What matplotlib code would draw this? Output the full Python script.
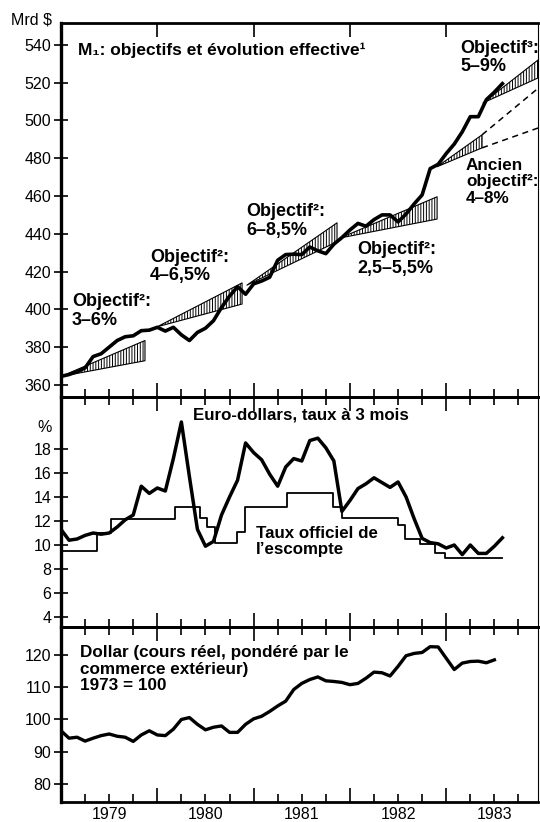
import numpy as np
import matplotlib
matplotlib.use('Agg')
import matplotlib.pyplot as plt
from matplotlib.ticker import MultipleLocator

plt.rcParams['font.family'] = ['Liberation Sans', 'DejaVu Sans']
plt.rcParams['hatch.linewidth'] = 0.7

# ---------------- data (monthly from January 1979) ----------------
T_START = 1979.0
m1_values = [364.5, 365.5, 367, 369, 375, 376.5, 380, 383.5, 385.5, 386, 388.7, 389,
             390.5, 388.5, 390.5, 386.5, 383.5, 387.8, 390, 394, 401, 407, 412, 408,
             413.5, 415, 417, 426, 429, 429.2, 429, 433, 431, 429.5, 434.5, 438,
             442, 445.5, 444, 447.5, 450, 450, 446.3, 450.5, 455.8, 460.6, 474.5, 476.8,
             482.5, 487.5, 494, 502, 502, 511, 515, 519.5]

euro_values = [11.3, 10.4, 10.5, 10.8, 11.0, 10.9, 11.0, 11.5, 12.1, 12.5, 14.9, 14.3,
               14.75, 14.5, 17.2, 20.25, 15.7, 11.3, 9.9, 10.3, 12.5, 14.0, 15.4, 18.5,
               17.7, 17.1, 15.9, 14.9, 16.5, 17.2, 17.0, 18.7, 18.9, 18.1, 17.0, 12.8,
               13.7, 14.7, 15.1, 15.6, 15.2, 14.8, 15.25, 14.0, 12.2, 10.55, 10.2, 10.1,
               9.75, 10.0, 9.2, 10.0, 9.3, 9.3, 9.9, 10.6]

dollar_values = [96.5, 94.2, 94.5, 93.3, 94.2, 95.0, 95.5, 94.8, 94.5, 93.2, 95.2, 96.5,
                 95.2, 95.0, 97.0, 100.0, 100.6, 98.5, 96.8, 97.6, 98.0, 96.0, 96.0, 98.5,
                 100.2, 101.0, 102.5, 104.2, 105.7, 109.3, 111.2, 112.4, 113.2, 112.0, 111.8, 111.5,
                 110.8, 111.2, 112.8, 114.7, 114.5, 113.5, 116.5, 119.8, 120.5, 120.8, 122.6, 122.5,
                 119.0, 115.5, 117.5, 118.0, 118.1, 117.6, 118.5]

# discount rate: change dates (decimal years) and levels
discount_dates = [1979.02, 1979.37, 1979.52, 1980.18, 1980.44, 1980.52, 1980.60, 1980.83,
                  1980.91, 1981.35, 1981.82, 1981.92, 1982.50, 1982.57, 1982.73, 1982.88,
                  1982.99, 1983.58]
discount_levels = [9.5, 11.0, 12.2, 13.2, 12.25, 11.5, 10.2, 11.1,
                   13.2, 14.3, 13.2, 12.25, 11.7, 10.5, 10.1, 9.3,
                   8.9, 8.9]

# M1 target cones: start date, base level, end date, lower and upper bound
cone_start_t = [1979.0, 1980.0, 1980.93, 1981.90, 1982.905, 1983.382]
cone_base = [364.5, 390.8, 412.8, 437.8, 475.5, 509.3]
cone_end_t = [1979.872, 1980.88, 1981.866, 1982.905, 1983.372, 1983.953]
cone_lower = [372.8, 402.8, 435.8, 447.8, 485.5, 522.5]
cone_upper = [383.5, 414.0, 445.8, 459.6, 492.4, 532.0]
# continuation of the former 1983 target (dashed)
old_target_end_t = 1983.953
old_target_lower_end = 496.0
old_target_upper_end = 517.0

years = [1979, 1980, 1981, 1982, 1983]

# ---------------- figure ----------------
fig = plt.figure(figsize=(5.4, 8.22), dpi=100)
W, H = 540.0, 822.0
L, R = 61, 538

def axes_px(top, bottom):
    return fig.add_axes([L / W, 1 - bottom / H, (R - L) / W, (bottom - top) / H])

ax1 = axes_px(23, 397)
ax2 = axes_px(397, 627)
ax3 = axes_px(627, 802)

XMIN, XMAX = 1979.0, 1983.953

def months(n):
    return T_START + np.arange(n) / 12.0

for ax in (ax1, ax2, ax3):
    ax.set_xlim(XMIN, XMAX)
    ax.xaxis.set_major_locator(MultipleLocator(1))
    ax.xaxis.set_minor_locator(MultipleLocator(0.25))
    ax.tick_params(axis='x', which='both', direction='in', top=True, bottom=True,
                   labelbottom=False, width=1.2, color='black')
    ax.tick_params(axis='x', which='major', length=10)
    ax.tick_params(axis='x', which='minor', length=6)
    ax.tick_params(axis='y', which='major', direction='inout', length=10, width=1.2,
                   labelsize=11.5, pad=2, right=False)
    ax.tick_params(axis='y', which='minor', left=False, right=False)
    ax.spines['left'].set_linewidth(2.4)
    ax.spines['top'].set_linewidth(2.0)
    ax.spines['bottom'].set_linewidth(2.0)
    ax.spines['right'].set_linewidth(0.8)
    ax.patch.set_alpha(0)

ax1.tick_params(axis='x', which='minor', top=False)

# ---- top panel: M1 ----
ax1.set_ylim(353.6, 551.6)
ax1.set_yticks(np.arange(360, 541, 20))
for i in range(len(cone_start_t)):
    ax1.fill_between([cone_start_t[i], cone_end_t[i]],
                     [cone_base[i], cone_lower[i]],
                     [cone_base[i], cone_upper[i]],
                     facecolor='white', edgecolor='black', hatch='||||||',
                     linewidth=0.8, zorder=2)
ax1.plot([cone_end_t[4], old_target_end_t], [cone_upper[4], old_target_upper_end],
         color='black', lw=1.1, dashes=(4, 3), zorder=2)
ax1.plot([cone_end_t[4], old_target_end_t], [cone_lower[4], old_target_lower_end],
         color='black', lw=1.1, dashes=(4, 3), zorder=2)
ax1.plot(months(len(m1_values)), m1_values, color='black', lw=2.6,
         solid_joinstyle='round', zorder=3)

bold = dict(fontweight='bold', color='black')
ax1.text(1979.177, 537.4, 'M\u2081: objectifs et évolution effective\u00b9',
         fontsize=12.5, va='center', ha='left', **bold)
lbl = dict(fontsize=13, va='center', ha='left', linespacing=1.12, **bold)
ax1.text(1979.114, 399.2, 'Objectif\u00b2:\n3–6%', **lbl)
ax1.text(1979.924, 422.7, 'Objectif\u00b2:\n4–6,5%', **lbl)
ax1.text(1980.921, 446.8, 'Objectif\u00b2:\n6–8,5%', **lbl)
ax1.text(1982.074, 426.7, 'Objectif\u00b2:\n2,5–5,5%', **lbl)
ax1.text(1983.206, 467.5, 'Ancien\nobjectif\u00b2:\n4–8%', fontsize=12.3, va='center',
         ha='left', linespacing=1.12, **bold)
ax1.text(1983.143, 533.4, 'Objectif\u00b3:\n5–9%', **lbl)
ax1.text(1978.69, 553.2, 'Mrd $', fontsize=11.5, ha='center', va='center',
         clip_on=False)

# ---- middle panel: interest rates ----
ax2.set_ylim(3.17, 22.33)
ax2.set_yticks(np.arange(4, 19, 2))
ax2.plot(months(len(euro_values)), euro_values, color='black', lw=2.5,
         solid_joinstyle='round', zorder=3)
ax2.step(discount_dates, discount_levels, where='post', color='black', lw=1.3, zorder=2)
ax2.text(1978.834, 19.83, '%', fontsize=11.5, ha='center', va='center', clip_on=False)
ax2.text(1980.371, 20.83, 'Euro-dollars, taux à 3 mois', fontsize=12.2,
         ha='left', va='center', **bold)
ax2.text(1981.025, 10.29, 'Taux officiel de\nl\u2019escompte', fontsize=12.2,
         ha='left', va='center', linespacing=1.12, **bold)

# ---- bottom panel: dollar ----
ax3.set_ylim(74.4, 128.7)
ax3.set_yticks(np.arange(80, 121, 10))
ax3.plot(months(len(dollar_values)), dollar_values, color='black', lw=2.4,
         solid_joinstyle='round', zorder=3)
ax3.text(1979.197, 115.66,
         'Dollar (cours réel, pondéré par le\ncommerce extérieur)\n1973 = 100',
         fontsize=12.3, ha='left', va='center', linespacing=1.12, **bold)

sec = ax3.secondary_xaxis('bottom')
sec.set_xticks([y + 0.5 for y in years], labels=[str(y) for y in years])
sec.tick_params(length=0, pad=3.5, labelsize=11.5)
sec.spines['bottom'].set_visible(False)

fig.savefig('out.png', dpi=100)
